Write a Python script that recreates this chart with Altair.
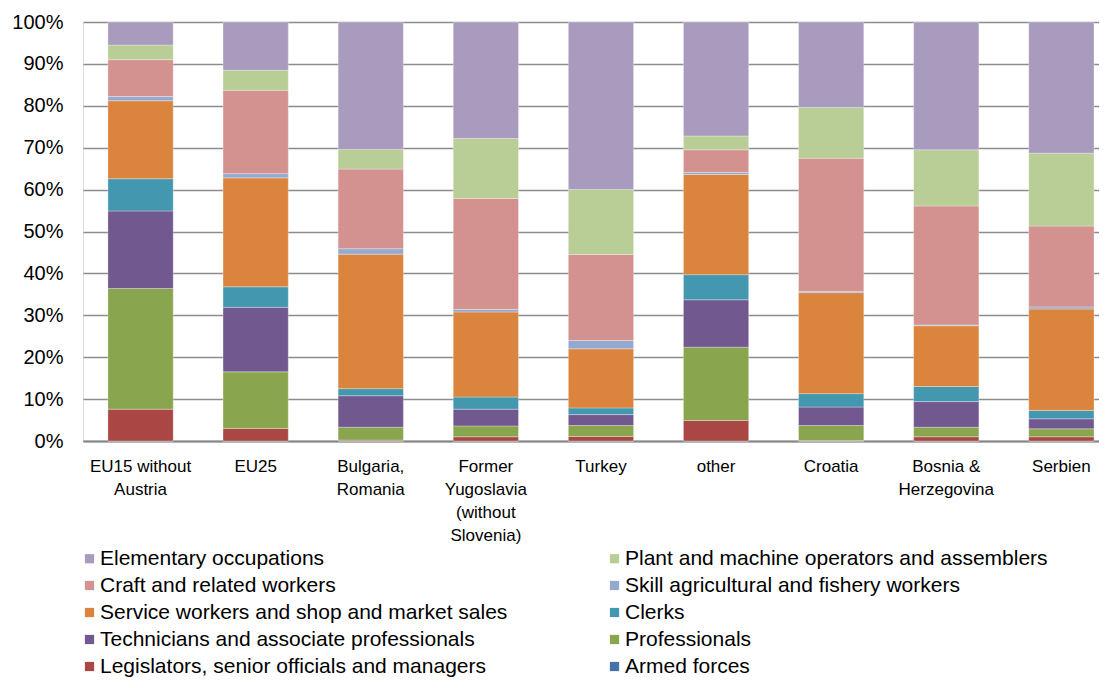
import altair as alt
import pandas as pd

# Categories (x axis); "|" marks a line break in the axis label
categories = [
    "EU15 without|Austria",
    "EU25",
    "Bulgaria,|Romania",
    "Former|Yugoslavia|(without|Slovenia)",
    "Turkey",
    "other",
    "Croatia",
    "Bosnia &|Herzegovina",
    "Serbien",
]

# Series values (% shares), one list per occupation, in category order
armed_forces = [0.0, 0.0, 0.0, 0.0, 0.0, 0.0, 0.0, 0.0, 0.0]
legislators = [7.6, 3.0, 0.2, 1.0, 1.1, 4.9, 0.1, 1.0, 1.0]
professionals = [28.8, 13.5, 3.1, 2.6, 2.6, 17.5, 3.6, 2.3, 1.9]
technicians = [18.5, 15.4, 7.5, 4.0, 2.6, 11.3, 4.4, 6.1, 2.4]
clerks = [7.7, 4.9, 1.7, 2.9, 1.6, 6.0, 3.2, 3.6, 2.0]
service = [18.6, 26.0, 32.1, 20.3, 14.1, 23.9, 24.1, 14.5, 24.2]
skill_agri = [1.0, 1.0, 1.3, 0.6, 2.0, 0.5, 0.3, 0.2, 0.5]
craft = [8.8, 19.9, 19.0, 26.5, 20.5, 5.4, 31.8, 28.4, 19.3]
plant = [3.5, 4.8, 4.7, 14.3, 15.5, 3.3, 12.1, 13.4, 17.4]
elementary = [5.5, 11.5, 30.4, 27.8, 40.0, 27.2, 20.4, 30.5, 31.3]

# Stack order, bottom to top
series = [
    ("Armed forces", armed_forces),
    ("Legislators, senior officials and managers", legislators),
    ("Professionals", professionals),
    ("Technicians and associate professionals", technicians),
    ("Clerks", clerks),
    ("Service workers and shop and market sales", service),
    ("Skill agricultural and fishery workers", skill_agri),
    ("Craft and related workers", craft),
    ("Plant and machine operators and assemblers", plant),
    ("Elementary occupations", elementary),
]

# Legend entries (filled column by column: left column, then right column)
legend_order = [
    "Elementary occupations",
    "Craft and related workers",
    "Service workers and shop and market sales",
    "Technicians and associate professionals",
    "Legislators, senior officials and managers",
    "Plant and machine operators and assemblers",
    "Skill agricultural and fishery workers",
    "Clerks",
    "Professionals",
    "Armed forces",
]
legend_colors = [
    "#A99BBD", "#D3928F", "#DB843D", "#71588F", "#AA4643",
    "#B9CD96", "#93A9CF", "#4398AF", "#89A54E", "#4572A7",
]

y_ticks = [0, 0.1, 0.2, 0.3, 0.4, 0.5, 0.6, 0.7, 0.8, 0.9, 1.0]

rows = []
for rank, (name, vals) in enumerate(series):
    for cat, v in zip(categories, vals):
        rows.append({"category": cat, "occupation": name, "value": v, "rank": rank})
df = pd.DataFrame(rows)

chart = alt.Chart(df).mark_bar(
    stroke="#ffffff", strokeWidth=0.6, strokeOpacity=0.5
).encode(
    x=alt.X(
        "category:N",
        sort=categories,
        scale=alt.Scale(paddingInner=0.433, paddingOuter=0.13, align=0.833),
        axis=alt.Axis(
            title=None,
            labelAngle=0,
            labelExpr="split(datum.label, '|')",
            labelFont="Liberation Sans",
            labelFontSize=17,
            labelLineHeight=23.3,
            labelColor="#000000",
            labelPadding=17,
            labelBaseline="top",
            ticks=False,
            domain=True,
            domainColor="#868686",
            domainWidth=2,
            grid=False,
        ),
    ),
    y=alt.Y(
        "value:Q",
        stack="normalize",
        scale=alt.Scale(domain=[0, 1]),
        axis=alt.Axis(
            title=None,
            format=".0%",
            values=y_ticks,
            grid=True,
            gridColor="#8c8c8c",
            gridWidth=1.5,
            domain=False,
            ticks=False,
            labelPadding=20,
            labelFont="Liberation Sans",
            labelFontSize=20,
            labelColor="#000000",
        ),
    ),
    color=alt.Color(
        "occupation:N",
        scale=alt.Scale(domain=legend_order, range=legend_colors),
        legend=alt.Legend(
            title=None,
            orient="none",
            legendX=-4,
            legendY=526,
            padding=0,
            columns=2,
            symbolType="square",
            symbolSize=85,
            symbolStrokeWidth=0,
            labelFont="Liberation Sans",
            labelFontSize=21,
            labelColor="#000000",
            labelOffset=0,
            labelLimit=700,
            columnPadding=96,
            rowPadding=5,
        ),
    ),
    order=alt.Order("rank:Q", sort="ascending"),
).properties(
    width=1016,
    height=419,
    autosize=alt.AutoSizeParams(type="none"),
    padding={"left": 75, "top": 14, "right": 0, "bottom": 239},
).configure_view(stroke=None).configure(background="white")

chart.save("out.html", embed_options={"renderer": "svg", "actions": False})
